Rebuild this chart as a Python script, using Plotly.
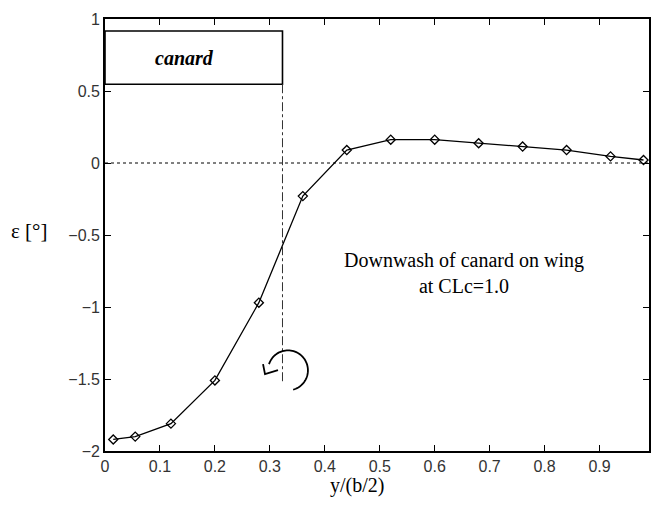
import numpy as np
import plotly.graph_objects as go

# data
span = [0.015, 0.055, 0.12, 0.2, 0.28, 0.36, 0.44, 0.52, 0.6, 0.68, 0.76, 0.84, 0.92, 0.98]
downwash = [-1.92, -1.90, -1.81, -1.51, -0.97, -0.23, 0.09, 0.162, 0.162, 0.137, 0.114, 0.09, 0.046, 0.021]
x_ticks = [0, 0.1, 0.2, 0.3, 0.4, 0.5, 0.6, 0.7, 0.8, 0.9]
x_labels = ["0", "0.1", "0.2", "0.3", "0.4", "0.5", "0.6", "0.7", "0.8", "0.9"]
y_ticks = [-2, -1.5, -1, -0.5, 0, 0.5, 1]
y_labels = ["\u22122", "\u22121.5", "\u22121", "\u22120.5", "0", "0.5", "1"]
canard_tip = 0.323
canard_box_y = [0.547, 0.917]

X_RANGE = [0, 0.99]
Y_RANGE = [-2, 1]

fig = go.Figure()

# zero line (dotted)
fig.add_shape(type="line", x0=X_RANGE[0], x1=X_RANGE[1], y0=0, y1=0,
              line=dict(color="black", width=1, dash="dot"))
# canard box
fig.add_shape(type="rect", x0=0, x1=canard_tip, y0=canard_box_y[0], y1=canard_box_y[1],
              line=dict(color="black", width=1.6), fillcolor="white")
# canard tip dash-dot line
fig.add_shape(type="line", x0=canard_tip, x1=canard_tip, y0=canard_box_y[0], y1=-1.53,
              line=dict(color="#333", width=1, dash="dashdot"))

# rotation arrow (circle arc) built in pixel space then converted
px_per_x = 551.0
px_per_y = 144.0
cx, cy = 0.333, -1.44  # center in data coords
r_px = 20
angs = np.linspace(np.deg2rad(-75), np.deg2rad(162), 60)
ax_pts = cx + r_px * np.cos(angs) / px_per_x
ay_pts = cy + r_px * np.sin(angs) / px_per_y
path = "M " + " L ".join(f"{a:.5f},{b:.5f}" for a, b in zip(ax_pts, ay_pts))
fig.add_shape(type="path", path=path, line=dict(color="black", width=1.8))
# arrow head near end of arc
tx = ax_pts[-1] - 4 / px_per_x
ty = ay_pts[-1] - 10 / px_per_y
head = (f"M {tx - 2/px_per_x:.5f},{ty + 10/px_per_y:.5f} "
        f"L {tx:.5f},{ty:.5f} "
        f"L {tx + 13/px_per_x:.5f},{ty + 4/px_per_y:.5f}")
fig.add_shape(type="path", path=head, line=dict(color="black", width=1.8))

fig.add_trace(go.Scatter(
    x=span, y=downwash, mode="lines+markers",
    line=dict(color="black", width=1.3),
    marker=dict(symbol="diamond-open", size=7, color="black", line=dict(width=1.3)),
    showlegend=False,
))

fig.add_annotation(x=0.145, y=(canard_box_y[0] + canard_box_y[1]) / 2,
                   text="<b><i>canard</i></b>", showarrow=False,
                   font=dict(family="Liberation Serif", size=20, color="black"))
fig.add_annotation(x=0.653, y=-0.765, text="Downwash of canard on wing<br>at CLc=1.0",
                   showarrow=False, align="center",
                   font=dict(family="Liberation Serif", size=20, color="black"))
# axis titles
fig.add_annotation(x=-0.139, xref="paper", y=-0.47, yref="y", text="\u03b5 [\u00b0]",
                   showarrow=False, xanchor="center",
                   font=dict(family="Liberation Serif", size=21, color="black"))
fig.add_annotation(x=0.459, xref="x", y=-0.08, yref="paper", text="y/(b/2)",
                   showarrow=False, xanchor="center", yanchor="middle",
                   font=dict(family="Liberation Serif", size=20, color="black"))

axis_common = dict(showline=True, linecolor="black", linewidth=1.8, mirror="ticks",
                   ticks="inside", ticklen=6, tickcolor="black", tickwidth=1.4,
                   showgrid=False, zeroline=False,
                   tickfont=dict(family="Liberation Sans", size=16, color="#333"))

fig.update_xaxes(range=X_RANGE, tickvals=x_ticks, ticktext=x_labels, **axis_common)
fig.update_yaxes(range=Y_RANGE, tickvals=y_ticks, ticktext=y_labels, **axis_common)

fig.update_layout(width=653, height=509, plot_bgcolor="white", paper_bgcolor="white",
                  margin=dict(l=105, r=2, t=19, b=58))

fig.write_html("out.html")
